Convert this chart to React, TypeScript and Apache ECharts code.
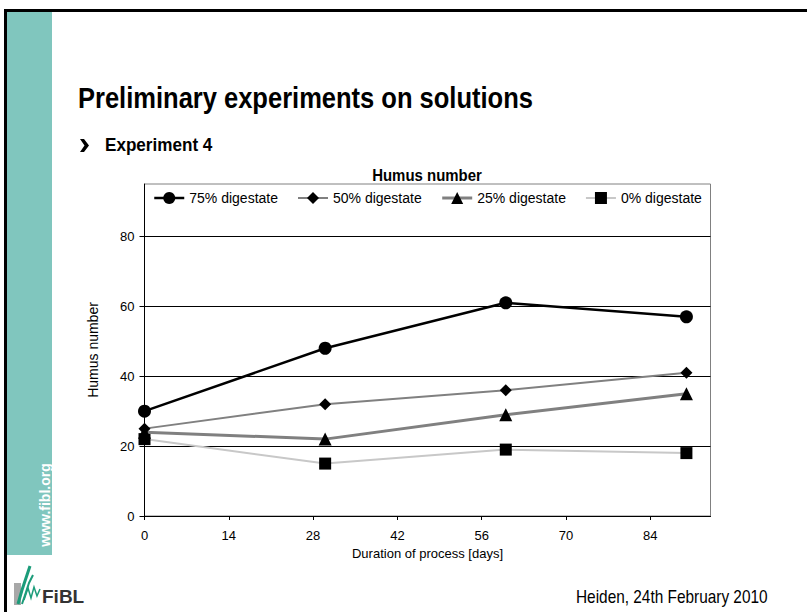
import React, { useEffect, useRef } from "react";
import * as echarts from "echarts";

const days = [0, 30, 60, 90];
const seriesNames = ["75% digestate", "50% digestate", "25% digestate", "0% digestate"];
const d75 = [30, 48, 61, 57];
const d50 = [25, 32, 36, 41];
const d25 = [24, 22, 29, 35];
const d0 = [22, 15, 19, 18];
const xTicks = [0, 14, 28, 42, 56, 70, 84];
const yTicks = [0, 20, 40, 60, 80];

const FONT = "Liberation Sans, Arial, sans-serif";

export default function App() {
  const ref = useRef<HTMLDivElement>(null);
  useEffect(() => {
    if (!ref.current) return;
    const chart = echarts.init(ref.current, undefined, { renderer: "svg" });
    const pts = (arr: number[]) => days.map((d, i) => [d, arr[i]]);
    const option: any = {
      animation: false,
      backgroundColor: "#fff",
      textStyle: { fontFamily: FONT },
      grid: {
        left: 144.5,
        right: 96.5,
        top: 184,
        bottom: 96,
        show: true,
        borderColor: "#808080",
        borderWidth: 1,
        containLabel: false,
      },
      legend: {
        data: seriesNames,
        left: 153,
        top: 191,
        padding: 0,
        itemWidth: 30,
        itemHeight: 15,
        itemGap: 19,
        lineStyle: { width: "inherit" },
        textStyle: { fontSize: 14, color: "#000", fontFamily: FONT },
      },
      xAxis: {
        type: "value",
        min: 0,
        max: 94,
        interval: 14,
        name: "Duration of process [days]",
        nameLocation: "middle",
        nameGap: 29,
        nameTextStyle: { fontSize: 13, color: "#000", fontFamily: FONT },
        axisLine: { show: true, onZero: false, lineStyle: { color: "#000", width: 1 } },
        axisTick: { show: true, length: 4, inside: false, customValues: xTicks, lineStyle: { color: "#000" } },
        axisLabel: {
          color: "#000",
          fontSize: 13,
          margin: 13,
          customValues: xTicks,
          formatter: (v: number) => (v % 14 === 0 ? String(v) : ""),
        },
        splitLine: { show: false },
      },
      yAxis: {
        type: "value",
        min: 0,
        max: 95,
        interval: 20,
        name: "Humus number",
        nameLocation: "middle",
        nameGap: 45,
        nameTextStyle: { fontSize: 14, color: "#000", fontFamily: FONT },
        axisLine: { show: true, onZero: false, lineStyle: { color: "#000", width: 1 } },
        axisTick: { show: true, length: 5, inside: false, customValues: yTicks, lineStyle: { color: "#000" } },
        axisLabel: {
          color: "#000",
          fontSize: 13,
          margin: 10,
          customValues: yTicks,
          formatter: (v: number) => (v % 20 === 0 ? String(v) : ""),
        },
        splitLine: { show: true, lineStyle: { color: "#000", width: 1 } },
      },
      series: [
        {
          name: seriesNames[0],
          type: "line",
          data: pts(d75),
          symbol: "circle",
          symbolSize: 13,
          lineStyle: { color: "#000", width: 2.5 },
          itemStyle: { color: "#000" },
          z: 5,
        },
        {
          name: seriesNames[1],
          type: "line",
          data: pts(d50),
          symbol: "diamond",
          symbolSize: 12,
          lineStyle: { color: "#808080", width: 2 },
          itemStyle: { color: "#000" },
          z: 4,
        },
        {
          name: seriesNames[2],
          type: "line",
          data: pts(d25),
          symbol: "triangle",
          symbolSize: 13,
          lineStyle: { color: "#808080", width: 3 },
          itemStyle: { color: "#000" },
          z: 3,
        },
        {
          name: seriesNames[3],
          type: "line",
          data: pts(d0),
          symbol: "rect",
          symbolSize: 12,
          lineStyle: { color: "#c8c8c8", width: 2 },
          itemStyle: { color: "#000" },
          z: 2,
        },
      ],
      graphic: [
        { type: "rect", shape: { x: 6, y: 12, width: 46, height: 543 }, style: { fill: "#80c6be" }, silent: true },
        { type: "rect", shape: { x: 4, y: 9, width: 803, height: 3 }, style: { fill: "#000" }, silent: true },
        { type: "rect", shape: { x: 4, y: 9, width: 3, height: 603 }, style: { fill: "#000" }, silent: true },
        {
          type: "text",
          x: 45,
          y: 505,
          rotation: Math.PI / 2,
          style: {
            text: "www.fibl.org",
            fill: "#fff",
            font: `bold 14px ${FONT}`,
            textAlign: "center",
            textVerticalAlign: "middle",
          },
        },
        {
          type: "text",
          x: 78,
          y: 98,
          scaleX: 0.88,
          style: {
            text: "Preliminary experiments on solutions",
            fill: "#000",
            font: `bold 29px ${FONT}`,
            textAlign: "left",
            textVerticalAlign: "middle",
          },
        },
        {
          type: "polygon",
          shape: { points: [[80, 139], [84, 139], [89, 145.5], [84, 152], [80, 152], [84.5, 145.5]] },
          style: { fill: "#000" },
        },
        {
          type: "text",
          x: 105,
          y: 145,
          scaleX: 0.9,
          style: {
            text: "Experiment 4",
            fill: "#000",
            font: `bold 19px ${FONT}`,
            textAlign: "left",
            textVerticalAlign: "middle",
          },
        },
        {
          type: "text",
          x: 427,
          y: 175,
          scaleX: 0.88,
          style: {
            text: "Humus number",
            fill: "#000",
            font: `bold 17px ${FONT}`,
            textAlign: "center",
            textVerticalAlign: "middle",
          },
        },
        {
          type: "text",
          x: 576,
          y: 597,
          scaleX: 0.88,
          style: {
            text: "Heiden, 24th February 2010",
            fill: "#000",
            font: `17.5px ${FONT}`,
            textAlign: "left",
            textVerticalAlign: "middle",
          },
        },
        { type: "rect", shape: { x: 14, y: 583, width: 7, height: 22 }, style: { fill: "#a8a8a8" } },
        {
          type: "polyline",
          shape: { points: [[18, 604], [22, 590], [26, 578], [30, 566]] },
          style: { stroke: "#1c9c7a", lineWidth: 3, fill: "none" },
        },
        {
          type: "polyline",
          shape: { points: [[22, 604], [26, 592], [29, 583], [33, 575]] },
          style: { stroke: "#1c9c7a", lineWidth: 2, fill: "none" },
        },
        {
          type: "polyline",
          shape: { points: [[24, 600], [28, 588], [31, 598], [34, 587], [37, 596], [40, 589]] },
          style: { stroke: "#1c9c7a", lineWidth: 1.5, fill: "none" },
        },
        {
          type: "text",
          x: 42,
          y: 596,
          style: {
            text: "FiBL",
            fill: "#333",
            font: `bold 19px ${FONT}`,
            textAlign: "left",
            textVerticalAlign: "middle",
          },
        },
      ],
    };
    chart.setOption(option);
    return () => chart.dispose();
  }, []);
  return (
    <div
      ref={ref}
      style={{ position: "absolute", left: 0, top: 0, width: 807, height: 612, background: "#fff" }}
    />
  );
}
